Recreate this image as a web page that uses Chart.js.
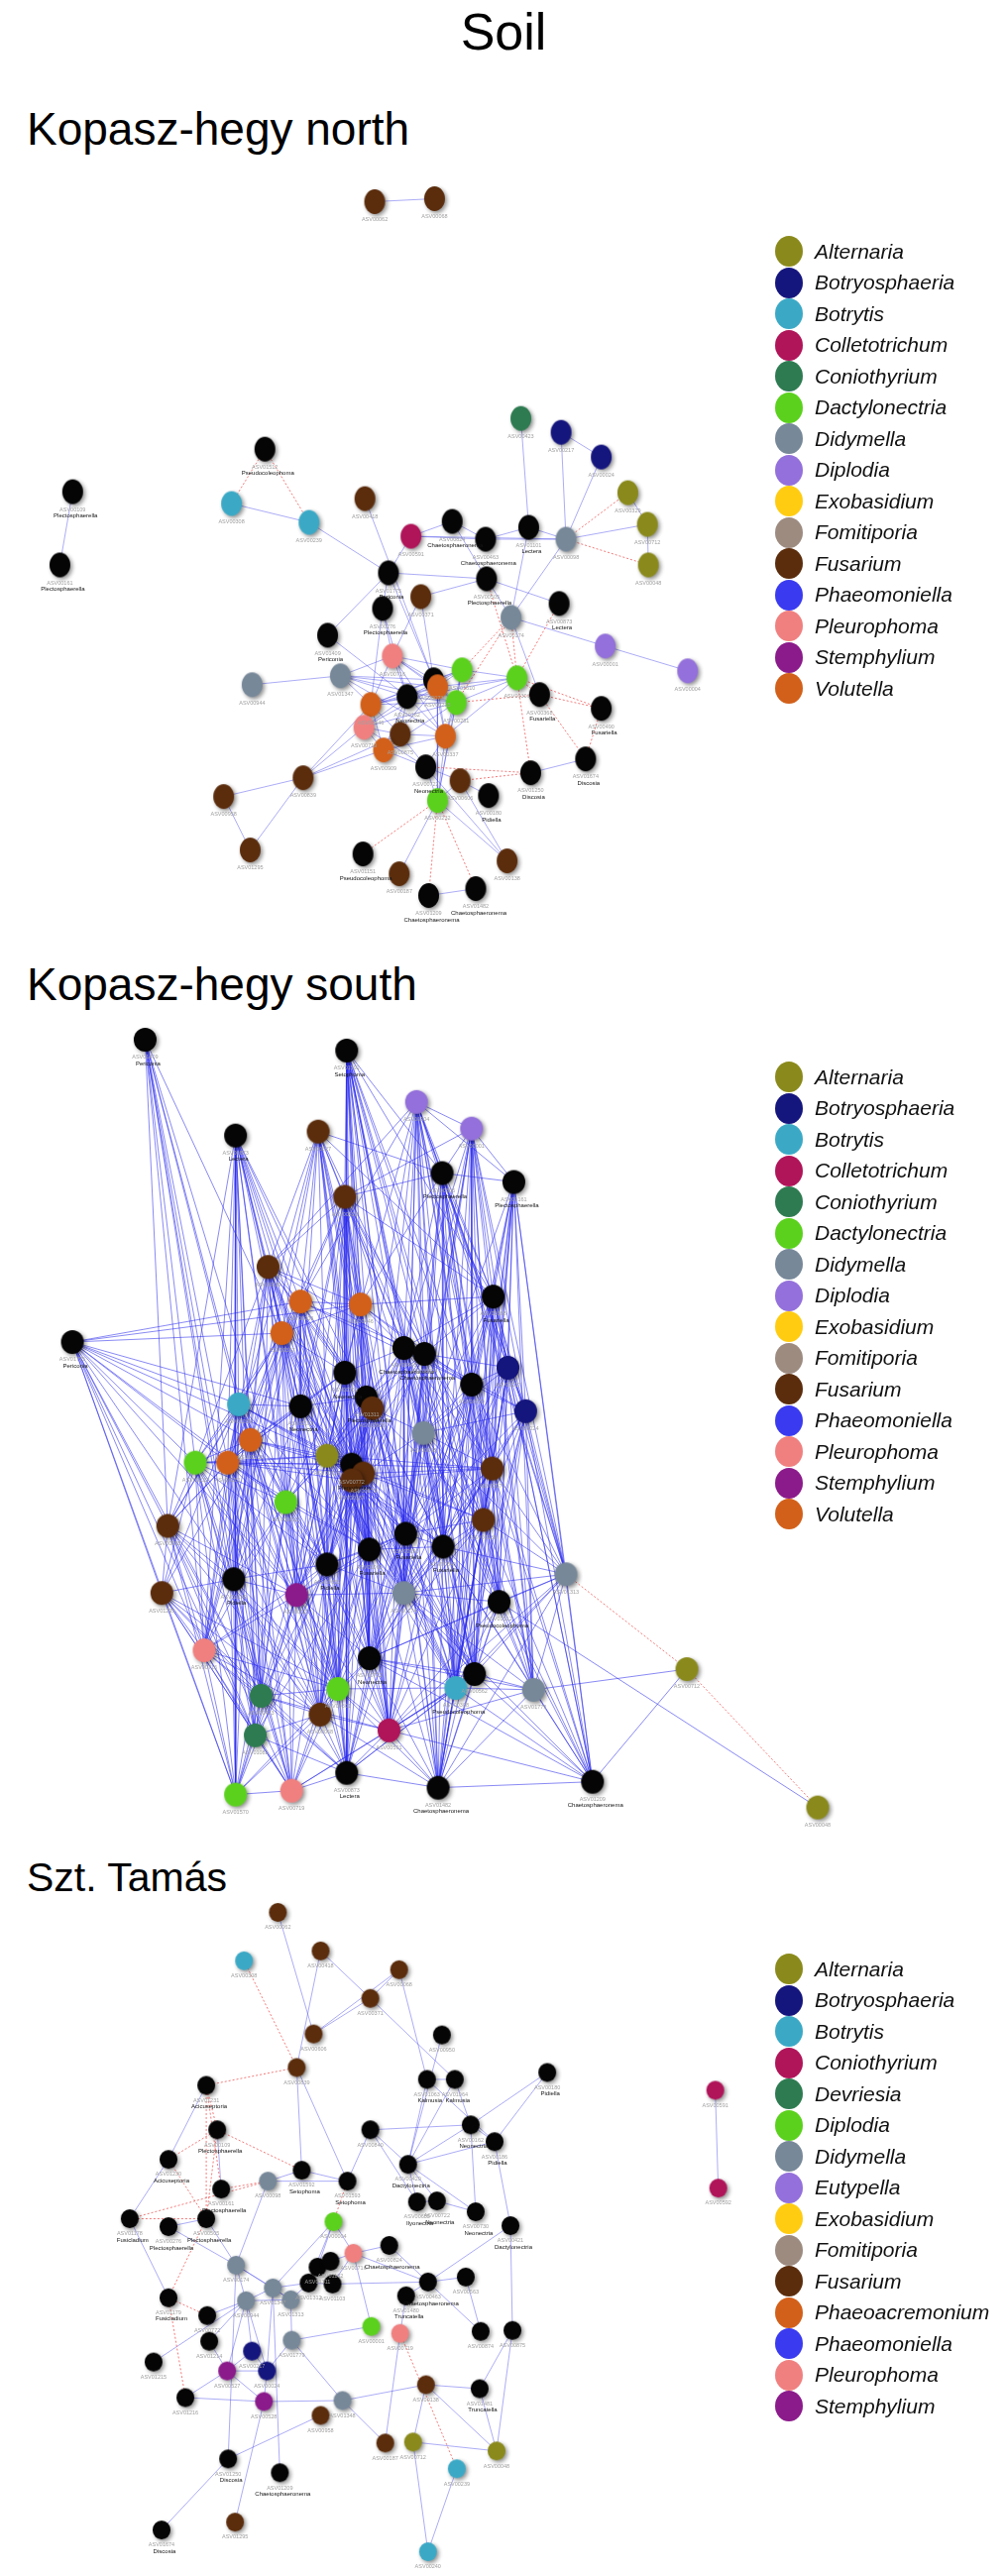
<!DOCTYPE html>
<html>
<head>
<meta charset="utf-8">
<script src="https://cdn.jsdelivr.net/npm/chart.js@4.4.1/dist/chart.umd.min.js"></script>
<style>
  body { margin: 0; background: #fff; width: 1016px; height: 2599px; position: relative; overflow: hidden;
         font-family: "Liberation Sans", Arial, Helvetica, sans-serif; }
  .title { position: absolute; color: #000; line-height: 1; white-space: nowrap; }
  canvas { position: absolute; left: 0; }
  .legend { position: absolute; left: 782px; z-index: 2; }
  .legend .row { height: 31.5px; display: flex; align-items: center; }
  .legend .dot { width: 28px; height: 31px; border-radius: 50%; margin-right: 12px; }
  .legend .name { font-style: italic; font-size: 21px; color: #111; }
</style>
</head>
<body>
<div class="title" style="left:0;width:1016px;text-align:center;top:6px;font-size:52px;">Soil</div>
<div class="title" style="left:27px;top:107px;font-size:46px;">Kopasz-hegy north</div>
<div class="title" style="left:27px;top:970px;font-size:46px;">Kopasz-hegy south</div>
<div class="title" style="left:27px;top:1874px;font-size:41px;">Szt. Tamás</div>

<canvas id="north" width="1016" height="790" style="top:160px"></canvas>
<canvas id="south" width="1016" height="840" style="top:1020px"></canvas>
<canvas id="tamas" width="1016" height="694" style="top:1905px"></canvas>

<script>
// legends
const legendNorth = ['Alternaria', 'Botryosphaeria', 'Botrytis', 'Colletotrichum', 'Coniothyrium', 'Dactylonectria',
  'Didymella', 'Diplodia', 'Exobasidium', 'Fomitiporia', 'Fusarium', 'Phaeomoniella', 'Pleurophoma', 'Stemphylium', 'Volutella'];
const legendSouth = legendNorth.slice();
const legendTamas = ['Alternaria', 'Botryosphaeria', 'Botrytis', 'Coniothyrium', 'Devriesia', 'Diplodia',
  'Didymella', 'Eutypella', 'Exobasidium', 'Fomitiporia', 'Fusarium', 'Phaeoacremonium', 'Phaeomoniella', 'Pleurophoma', 'Stemphylium'];

const colorsNorth = ['#8a8a1c', '#15157e', '#3ba9c6', '#b01459', '#2e7b51', '#5bd11d', '#778899', '#9370db',
  '#ffcc12', '#9d8b80', '#5b2d0d', '#3a3af0', '#f08080', '#8b1a8b', '#d2601a'];
const colorsTamas = ['#8a8a1c', '#15157e', '#3ba9c6', '#b01459', '#2e7b51', '#5bd11d', '#778899', '#9370db',
  '#ffcc12', '#9d8b80', '#5b2d0d', '#d2601a', '#3a3af0', '#f08080', '#8b1a8b'];

// ---- Kopasz-hegy north ----
const northX = [379, 440, 71, 58, 267, 233, 312, 369, 416, 458, 492, 393, 426, 387, 493, 536, 574, 528, 569, 610,
  637, 657, 658, 567, 518, 614, 698, 331, 397, 344, 254, 439, 443, 468, 524, 412, 462, 375, 368, 405,
  451, 388, 547, 610, 431, 466, 443, 495, 538, 594, 306, 225, 252, 367, 404, 434, 482, 514];
const northY = [203, 200, 496, 570, 453, 508, 527, 503, 541, 526, 544, 578, 602, 614, 584, 532, 544, 422, 436, 461,
  497, 529, 570, 609, 623, 652, 677, 641, 662, 682, 691, 686, 693, 676, 684, 703, 709, 711, 734, 741,
  743, 757, 701, 715, 774, 788, 808, 803, 780, 766, 785, 804, 858, 862, 882, 904, 897, 869];
const northGenus = ['Fusarium', 'Fusarium', '', '', '', 'Botrytis', 'Botrytis', 'Fusarium', 'Colletotrichum', '', '', '', 'Fusarium', '', '', '', 'Didymella', 'Coniothyrium', 'Botryosphaeria', 'Botryosphaeria',
  'Alternaria', 'Alternaria', 'Alternaria', '', 'Didymella', 'Diplodia', 'Diplodia', '', 'Pleurophoma', 'Didymella', 'Didymella', '', 'Volutella', 'Dactylonectria', 'Dactylonectria', '', 'Dactylonectria', 'Volutella', 'Pleurophoma', 'Fusarium',
  'Volutella', 'Volutella', '', '', '', 'Fusarium', 'Dactylonectria', '', '', '', 'Fusarium', 'Fusarium', 'Fusarium', '', 'Fusarium', '', '', 'Fusarium'];
const northAsv = ['ASV00062', 'ASV00068', 'ASV00109', 'ASV00161', 'ASV01512', 'ASV00308', 'ASV00239', 'ASV00418', 'ASV00591', 'ASV00824',
  'ASV00463', 'ASV01775', 'ASV00371', 'ASV00276', 'ASV00505', 'ASV01101', 'ASV00098', 'ASV00423', 'ASV00217', 'ASV00024',
  'ASV00329', 'ASV00712', 'ASV00048', 'ASV00873', 'ASV00174', 'ASV00001', 'ASV00004', 'ASV01409', 'ASV00716', 'ASV01347',
  'ASV00944', 'ASV00730', 'ASV00215', 'ASV01610', 'ASV00301', 'ASV00162', 'ASV00281', 'ASV00446', 'ASV00719', 'ASV00875',
  'ASV00337', 'ASV00909', 'ASV00368', 'ASV00490', 'ASV00722', 'ASV00606', 'ASV00232', 'ASV00180', 'ASV01250', 'ASV01674',
  'ASV00839', 'ASV00958', 'ASV01295', 'ASV01151', 'ASV00187', 'ASV01209', 'ASV01482', 'ASV00138'];
const northTaxon = ['', '', 'Plectosphaerella', 'Plectosphaerella', 'Pseudocoleophoma', '', '', '', '', 'Chaetosphaeronema',
  'Chaetosphaeronema', 'Periconia', '', 'Plectosphaerella', 'Plectosphaerella', 'Lectera', '', '', '', '',
  '', '', '', 'Lectera', '', '', '', 'Periconia', '', '',
  '', '', '', '', '', 'Neonectria', '', '', '', '',
  '', '', 'Fusariella', 'Fusariella', 'Neonectria', '', '', 'Pidiella', 'Discosia', 'Discosia',
  '', '', '', 'Pseudocoleophoma', '', 'Chaetosphaeronema', 'Chaetosphaeronema', ''];
const northPositive = '0-1 2-3 5-6 6-11 7-31 8-9 8-10 8-11 8-16 9-10 9-14 10-15 10-16 15-16 17-15 18-16 18-19 19-16 21-16 20-21 ' +
  '21-22 16-24 14-24 14-23 15-24 11-14 12-14 27-11 27-35 24-25 25-26 24-42 12-28 12-31 13-28 13-35 29-30 29-28 29-31 29-32 ' +
  '29-35 29-36 29-37 29-40 28-31 28-32 28-33 28-35 28-36 28-37 28-40 31-33 31-36 31-37 31-40 32-33 32-35 32-36 32-37 32-38 ' +
  '32-40 32-41 33-35 33-36 33-37 33-40 35-36 35-37 35-38 35-39 35-40 35-41 36-37 36-38 36-40 36-41 37-38 37-39 37-41 38-39 ' +
  '38-41 39-40 39-41 40-41 38-44 39-44 40-44 41-44 40-46 36-46 33-46 32-46 44-46 44-45 45-46 45-47 46-54 46-57 55-56 44-57 ' +
  '45-57 34-36 34-40 34-37 33-34 34-32 50-51 51-52 50-52 50-37 50-38 50-41 50-39 48-49 11-13 13-37 11-31';
const northNegative = '4-5 4-6 16-20 16-22 24-33 24-34 24-36 23-34 34-42 42-43 34-43 42-49 44-48 34-48 36-42 45-48 46-53 46-55 46-56 14-34 43-49';

// ---- Kopasz-hegy south ----
const southX = [144, 349, 420, 476, 236, 320, 446, 519, 347, 269, 302, 363, 498, 283, 70, 407, 428, 347, 513, 476,
  239, 302, 369, 375, 531, 427, 251, 195, 228, 329, 354, 366, 354, 497, 287, 167, 488, 409, 372, 447,
  329, 572, 234, 161, 298, 407, 504, 204, 372, 479, 262, 340, 460, 539, 322, 256, 392, 349, 236, 293,
  442, 599, 695, 828];
const southY = [1049, 1060, 1112, 1139, 1146, 1142, 1184, 1193, 1208, 1279, 1314, 1317, 1309, 1346, 1355, 1361, 1367, 1386, 1381, 1398,
  1418, 1420, 1411, 1422, 1425, 1447, 1454, 1477, 1477, 1470, 1479, 1488, 1495, 1483, 1517, 1541, 1535, 1549, 1565, 1562,
  1580, 1590, 1595, 1609, 1611, 1609, 1618, 1667, 1675, 1691, 1713, 1706, 1705, 1707, 1732, 1753, 1748, 1791, 1813, 1809,
  1806, 1800, 1686, 1826];
const southGenus = ['', '', 'Diplodia', 'Diplodia', '', 'Fusarium', '', '', 'Fusarium', 'Fusarium', 'Volutella', 'Volutella', '', 'Volutella', '', '', '', '', 'Botryosphaeria', '',
  'Botrytis', '', '', 'Fusarium', 'Botryosphaeria', 'Didymella', 'Volutella', 'Dactylonectria', 'Volutella', 'Alternaria', '', 'Fusarium', 'Fusarium', 'Fusarium', 'Dactylonectria', 'Fusarium', 'Fusarium', '', '', '',
  '', 'Didymella', '', 'Fusarium', 'Stemphylium', 'Didymella', '', 'Pleurophoma', '', '', 'Coniothyrium', 'Dactylonectria', 'Botrytis', 'Didymella', 'Fusarium', 'Coniothyrium', 'Colletotrichum', '', 'Dactylonectria', 'Pleurophoma',
  '', '', 'Alternaria', 'Alternaria'];
const southAsv = ['ASV01409', 'ASV01592', 'ASV00004', 'ASV00001', 'ASV00873', 'ASV00627', 'ASV00505', 'ASV00161', 'ASV00418', 'ASV00839',
  'ASV00909', 'ASV00446', 'ASV00368', 'ASV00337', 'ASV01775', 'ASV00463', 'ASV00824', 'ASV00162', 'ASV00217', 'ASV00730',
  'ASV00239', 'ASV01102', 'ASV01311', 'ASV00606', 'ASV00024', 'ASV00098', 'ASV00215', 'ASV00232', 'ASV00281', 'ASV00329',
  'ASV00772', 'ASV00875', 'ASV00187', 'ASV00371', 'ASV01610', 'ASV00958', 'ASV00138', 'ASV00950', 'ASV01063', 'ASV00840',
  'ASV00655', 'ASV01313', 'ASV00180', 'ASV01295', 'ASV00527', 'ASV00174', 'ASV01512', 'ASV00716', 'ASV00722', 'ASV00562',
  'ASV00423', 'ASV00301', 'ASV00308', 'ASV01779', 'ASV00068', 'ASV01082', 'ASV00591', 'ASV00873', 'ASV01570', 'ASV00719',
  'ASV01482', 'ASV01209', 'ASV00712', 'ASV00048'];
const southTaxon = ['Periconia', 'Setophoma', '', '', 'Lectera', '', 'Plectosphaerella', 'Plectosphaerella', '', '',
  '', '', 'Fusariella', '', 'Periconia', 'Chaetosphaeronema', 'Chaetosphaeronema', 'Neonectria', '', '',
  '', 'Neonectria', 'Plectosphaerella', '', '', '', '', '', '', '',
  'Plenodomus', '', '', '', '', '', '', 'Fusariella', 'Fusariella', 'Fusariella',
  'Pidiella', '', 'Pidiella', '', '', '', 'Pseudocoleophoma', '', 'Neonectria', '',
  '', '', 'Pseudocoleophoma', '', '', '', '', 'Lectera', '', '',
  'Chaetosphaeronema', 'Chaetosphaeronema', '', ''];
const southAdjacency = '0:20,26,27,42,13;1:8,11,15,16,17,22,23,30,37,38,45,48,12,6;2:6,7,3,12,15,16,19,25,33,36,39,9,11,22,10,38;' +
  '3:6,7,12,18,19,24,33,36,15,16,8,39,46;4:9,10,13,20,21,26,28,34,17,22,29,42,58,38;5:9,10,11,13,21,17,8,12,6,22,30,16;' +
  '6:7,8,12,18,19,24,33,36,41,39,46,11,15;7:12,18,24,41,33,36,46,53,19,49;8:9,10,11,12,13,15,16,17,21,22,23,30,31,37,38,40,45;' +
  '9:10,11,13,21,26,28,34,17,22,29,40,44,42,15,27;10:11,13,21,26,28,34,17,22,29,30,40,44,16,19;' +
  '11:13,15,16,17,22,23,29,30,31,37,38,45,19,12,48;12:18,19,24,33,36,39,46,41,15,16,49,25;' +
  '13:20,21,26,27,28,29,34,35,42,44,17,40,30;14:26,27,35,43,10,13,28,47,20;15:16,17,19,22,23,25,29,30,31,33,37,38,39,45,36;' +
  '16:19,22,23,25,30,31,33,37,39,45,18,24;17:21,22,23,29,30,34,38,40,44,48,26,28;18:19,24,33,36,41,46,53,49,39,61;' +
  '19:24,25,33,36,39,45,46,37,49,52,41;20:21,26,27,28,34,35,42,43,44,47,29,50;21:22,26,28,29,30,34,40,42,44,31;' +
  '22:23,29,30,31,32,37,38,40,45,48;23:29,30,31,32,37,38,45,25;24:33,36,41,46,53,49,39,61,52;25:33,36,37,39,45,46,48,49,52,31;' +
  '26:27,28,34,35,42,43,47,29,50,55;27:28,35,42,43,47,50,55,58,34;28:29,34,35,42,44,47,50,31;29:30,31,32,34,40,44,38,48,51;' +
  '30:31,32,37,38,40,45,48,51,54;31:32,37,38,45,48,39;32:38,40,44,48,51,54,56;33:36,39,41,46,49,53,52,61;' +
  '34:40,42,44,47,50,51,54,55,38;35:42,43,47,50,55,58,59;36:39,41,46,49,52,53,60,61;37:38,39,45,48,49,52,56,60;' +
  '38:40,45,48,51,54,56,57;39:45,46,49,52,53,60;40:44,48,51,54,56,57,59;41:46,49,53,61,52,60;42:43,44,47,50,55,58,59;' +
  '43:47,50,55,58,59;44:47,50,51,54,55,58,59,57;45:48,49,52,56,60,57;46:49,52,53,60,61,63;47:50,55,58,59,57;' +
  '48:51,54,56,57,60,52;49:52,53,60,61,56;50:55,58,59,57,54;51:54,56,57,59,58;52:53,56,60,61,57;53:60,61,62;' +
  '54:55,56,57,59;55:58,59;56:57,60,59;57:59,60;58:59;60:61;61:62';
// the long cross links that make the hairball
const southAdjacencyLong = '1:25,33,36,39,52,57,60,49,46,19;2:24,18,41,46,49,52,37,45;3:41,49,53,52,25,37,45;' +
  '4:30,44,40,47,50,55,35;5:15,23,29,31,37,38,26,28;6:25,37,45,49,52,53;7:39,25,52,60,61;0:28,34,35,47,50,55;' +
  '14:34,42,50,55,58,44,29,11,21;9:30,31,32,38,47,50;10:31,32,38,42,47,51;13:31,32,38,47,50,51,54;8:29,34,44,48,51,25,33,36;' +
  '12:37,45,52,53,60,61;15:40,46,48,49,52,56,60;16:40,46,48,49,52,56,60;17:31,32,37,45,51,54,56,57;18:25,37,45,52,60;' +
  '19:48,53,56,60,61;20:30,31,38,40,51,54,58,59;21:32,37,38,45,48,51,54,57;22:34,39,44,49,51,52,54,56,57;' +
  '23:34,36,39,40,44,48,51,56;24:25,37,45,60;25:41,53,56,57,60,61;26:30,31,38,40,44,51,54,58,59;27:29,30,40,44,51,54,59;' +
  '28:30,32,38,40,51,54,55,58,59;29:33,37,39,45,50,54,56,57;30:33,36,39,44,49,52,56,57;31:33,36,40,44,49,52,54,56;' +
  '32:33,37,39,45,49,52,57;33:37,45,48,60;34:48,56,57,58,59;35:44,51,54;36:37,45,48,56;37:40,44,51,54,57;' +
  '38:39,44,49,52,55,59,60;39:41,48,56,61;40:42,45,47,50,55,58;41:45,48,56;42:51,54,57;43:51,54,57;44:45,48,56;' +
  '45:46,53,61;46:48,56;47:51,54;48:49,53,61;49:57;50:51,56;51:52,60;52:59;53:56;54:58,60;55:57;56:61';
const southNegative = '41-62 62-63';

// ---- Szt. Tamás ----
const tamasX = [278, 244, 321, 400, 371, 314, 297, 443, 428, 456, 549, 206, 217, 371, 472, 496, 168, 409, 302, 268,
  348, 221, 418, 438, 477, 334, 129, 206, 168, 512, 354, 390, 236, 318, 331, 309, 333, 273, 246, 291,
  168, 207, 429, 467, 407, 372, 401, 482, 514, 209, 292, 153, 252, 227, 267, 185, 264, 321, 343, 427,
  481, 386, 414, 498, 458, 228, 280, 161, 235, 429, 718, 721];
const tamasY = [1929, 1978, 1968, 1987, 2016, 2052, 2086, 2053, 2098, 2098, 2091, 2104, 2149, 2149, 2144, 2161, 2179, 2184, 2190, 2201,
  2201, 2209, 2222, 2221, 2232, 2242, 2239, 2239, 2247, 2246, 2274, 2266, 2286, 2288, 2282, 2304, 2305, 2309, 2322, 2321,
  2319, 2337, 2303, 2298, 2317, 2348, 2355, 2353, 2352, 2363, 2362, 2384, 2373, 2393, 2393, 2420, 2424, 2438, 2423, 2407,
  2411, 2466, 2465, 2474, 2492, 2482, 2496, 2554, 2546, 2576, 2109, 2208];
const tamasGenus = ['Fusarium', 'Botrytis', 'Fusarium', 'Fusarium', 'Fusarium', 'Fusarium', 'Fusarium', '', '', '', '', '', '', '', '', '', '', '', '', 'Didymella',
  '', '', '', '', '', 'Diplodia', '', '', '', '', 'Pleurophoma', '', 'Didymella', '', '', '', '', 'Didymella', 'Didymella', 'Didymella',
  '', '', '', '', '', 'Diplodia', 'Pleurophoma', '', '', '', 'Didymella', '', 'Botryosphaeria', 'Stemphylium', 'Botryosphaeria', '', 'Stemphylium', 'Fusarium', 'Didymella', 'Fusarium',
  '', 'Fusarium', 'Alternaria', 'Alternaria', 'Botrytis', '', '', '', 'Fusarium', 'Botrytis', 'Coniothyrium', 'Coniothyrium'];
const tamasAsv = ['ASV00062', 'ASV00308', 'ASV00418', 'ASV00068', 'ASV00371', 'ASV00606', 'ASV00839', 'ASV00950', 'ASV01063', 'ASV01064',
  'ASV00180', 'ASV01231', 'ASV00109', 'ASV00840', 'ASV00162', 'ASV00186', 'ASV01230', 'ASV00420', 'ASV01592', 'ASV00098',
  'ASV01593', 'ASV00161', 'ASV00655', 'ASV00722', 'ASV00730', 'ASV00004', 'ASV01178', 'ASV00505', 'ASV00276', 'ASV00421',
  'ASV00716', 'ASV00824', 'ASV00174', 'ASV01311', 'ASV01102', 'ASV01312', 'ASV01103', 'ASV01347', 'ASV00944', 'ASV01313',
  'ASV01179', 'ASV00772', 'ASV00463', 'ASV00563', 'ASV01480', 'ASV00001', 'ASV00719', 'ASV00874', 'ASV00875', 'ASV01214',
  'ASV01779', 'ASV01215', 'ASV00217', 'ASV00527', 'ASV00024', 'ASV01216', 'ASV00528', 'ASV00958', 'ASV01348', 'ASV00138',
  'ASV01481', 'ASV00187', 'ASV00712', 'ASV00048', 'ASV00239', 'ASV01250', 'ASV01209', 'ASV01674', 'ASV01295', 'ASV00240',
  'ASV00591', 'ASV00592'];
const tamasTaxon = ['', '', '', '', '', '', '', '', 'Kalmusia', 'Kalmusia',
  'Pidiella', 'Acicuseptoria', 'Plectosphaerella', '', 'Neonectria', 'Pidiella', 'Acicuseptoria', 'Dactylonectria', 'Setophoma', '',
  'Setophoma', 'Plectosphaerella', 'Ilyonectria', 'Neonectria', 'Neonectria', '', 'Fusicladium', 'Plectosphaerella', 'Plectosphaerella', 'Dactylonectria',
  '', 'Chaetosphaeronema', '', '', '', '', '', '', '', '',
  'Fusicladium', '', 'Chaetosphaeronema', '', 'Truncatella', '', '', '', '', '',
  '', '', '', '', '', '', '', '', '', '',
  'Truncatella', '', '', '', '', 'Discosia', 'Chaetosphaeronema', 'Discosia', '', '',
  '', ''];
const tamasPositive = '0-5 2-6 2-4 3-4 4-5 3-5 3-8 4-9 6-18 6-20 7-17 8-9 8-17 8-15 9-14 9-17 10-14 10-15 14-15 14-17 14-24 15-17 ' +
  '15-29 13-17 13-22 17-22 17-23 17-24 22-23 23-24 11-16 12-21 16-26 18-19 18-20 19-20 19-32 25-33 25-37 25-35 26-40 ' +
  '27-28 27-32 28-32 32-38 32-37 32-39 38-37 38-39 38-52 38-53 38-54 38-41 37-39 37-54 37-35 39-50 39-35 50-54 50-45 50-58 ' +
  '52-53 52-54 53-54 53-56 54-56 53-55 49-53 49-38 55-56 51-38 56-58 56-68 57-65 65-67 65-32 66-37 58-59 58-61 59-60 ' +
  '59-62 59-63 62-63 62-69 69-64 61-46 30-34 30-36 30-42 30-45 30-31 31-42 42-43 42-44 42-47 44-46 47-43 48-60 48-63 ' +
  '48-29 60-63 33-34 35-36 36-42 29-42 70-71 13-20 25-30 13-14';
const tamasNegative = '1-6 6-11 11-12 11-27 11-21 12-16 12-18 12-27 19-21 26-27 27-40 40-41 40-55 46-64 16-27 19-26 20-25';

function pairs(text) {
  return text.trim().split(/\s+/).map(p => p.split('-').map(Number));
}

function adjacencyPairs(text) {
  const out = [];
  text.split(';').forEach(entry => {
    const parts = entry.split(':');
    const from = Number(parts[0]);
    parts[1].split(',').forEach(to => out.push([from, Number(to)]));
  });
  return out;
}

// one line dataset per edge type, segments separated by gaps
function edgePoints(edges, xs, ys) {
  const pts = [];
  edges.forEach(([a, b]) => {
    pts.push({x: xs[a], y: ys[a]}, {x: xs[b], y: ys[b]}, {x: null, y: null});
  });
  return pts;
}

// shaded ellipse used as the point style
const imageCache = {};
function nodeImage(color, w, h) {
  const key = color + w + 'x' + h;
  if (imageCache[key]) return imageCache[key];
  const c = document.createElement('canvas');
  c.width = w + 12;
  c.height = h + 12;
  const g = c.getContext('2d');
  g.shadowColor = 'rgba(0,0,0,0.45)';
  g.shadowBlur = 4;
  g.shadowOffsetX = 2;
  g.shadowOffsetY = 2;
  g.fillStyle = color;
  g.beginPath();
  g.ellipse(c.width / 2, c.height / 2, w / 2, h / 2, 0, 0, Math.PI * 2);
  g.fill();
  imageCache[key] = c;
  return c;
}

const nodeLabels = {
  id: 'nodeLabels',
  afterDatasetsDraw(chart, args, opts) {
    const meta = chart.getDatasetMeta(0);
    const ctx = chart.ctx;
    ctx.save();
    ctx.textAlign = 'center';
    ctx.textBaseline = 'top';
    meta.data.forEach((pt, i) => {
      ctx.font = '5.5px "Liberation Sans", Arial, sans-serif';
      ctx.fillStyle = '#a0a0a0';
      ctx.fillText(opts.asv[i], pt.x, pt.y + opts.gap);
      if (opts.taxon[i]) {
        ctx.font = '6px "Liberation Sans", Arial, sans-serif';
        ctx.fillStyle = '#151515';
        ctx.fillText(opts.taxon[i], pt.x + 3, pt.y + opts.gap + 6);
      }
    });
    ctx.restore();
  }
};

function drawNetwork(id, view, xs, ys, genus, asv, taxon, posEdges, negEdges, names, colors, w, h, edgeColor) {
  const styles = genus.map(g => nodeImage(g ? colors[names.indexOf(g)] : '#050505', w, h));
  new Chart(document.getElementById(id), {
    type: 'scatter',
    data: {
      datasets: [
        {
          type: 'scatter',
          data: xs.map((x, i) => ({x: x, y: ys[i]})),
          pointStyle: styles,
          pointRadius: w / 2,
          order: 0,
          clip: false
        },
        {
          type: 'line',
          data: edgePoints(posEdges, xs, ys),
          borderColor: edgeColor,
          borderWidth: 1,
          pointRadius: 0,
          spanGaps: false,
          fill: false,
          tension: 0,
          order: 2
        },
        {
          type: 'line',
          data: edgePoints(negEdges, xs, ys),
          borderColor: 'rgba(240,90,90,0.8)',
          borderWidth: 1,
          borderDash: [2, 2],
          pointRadius: 0,
          spanGaps: false,
          fill: false,
          tension: 0,
          order: 1
        }
      ]
    },
    options: {
      responsive: false,
      animation: false,
      layout: {padding: 0},
      events: [],
      plugins: {
        legend: {display: false},
        tooltip: {enabled: false},
        nodeLabels: {asv: asv, taxon: taxon, gap: h / 2 + 3}
      },
      scales: {
        x: {type: 'linear', min: view[0], max: view[1], display: false},
        y: {type: 'linear', min: view[2], max: view[3], reverse: true, display: false}
      }
    },
    plugins: [nodeLabels]
  });
}

function buildLegend(names, colors, top) {
  const box = document.createElement('div');
  box.className = 'legend';
  box.style.top = top + 'px';
  names.forEach((n, i) => {
    const row = document.createElement('div');
    row.className = 'row';
    const dot = document.createElement('span');
    dot.className = 'dot';
    dot.style.background = colors[i];
    const label = document.createElement('span');
    label.className = 'name';
    label.textContent = n;
    row.appendChild(dot);
    row.appendChild(label);
    box.appendChild(row);
  });
  document.body.appendChild(box);
}

drawNetwork('north', [8.6, 1012, 171, 939], northX, northY, northGenus, northAsv, northTaxon,
  pairs(northPositive), pairs(northNegative), legendNorth, colorsNorth, 21, 25, 'rgba(70,70,235,0.45)');
drawNetwork('south', [9, 1008, 1032.5, 1850], southX, southY, southGenus, southAsv, southTaxon,
  adjacencyPairs(southAdjacency).concat(adjacencyPairs(southAdjacencyLong)), pairs(southNegative),
  legendSouth, colorsNorth, 23, 24, 'rgba(40,40,235,0.55)');
drawNetwork('tamas', [8.5, 1001.5, 1914.5, 2590.5], tamasX, tamasY, tamasGenus, tamasAsv, tamasTaxon,
  pairs(tamasPositive), pairs(tamasNegative), legendTamas, colorsTamas, 18, 19, 'rgba(70,70,235,0.45)');

buildLegend(legendNorth, colorsNorth, 238);
buildLegend(legendSouth, colorsNorth, 1071);
buildLegend(legendTamas, colorsTamas, 1971);
</script>
</body>
</html>
